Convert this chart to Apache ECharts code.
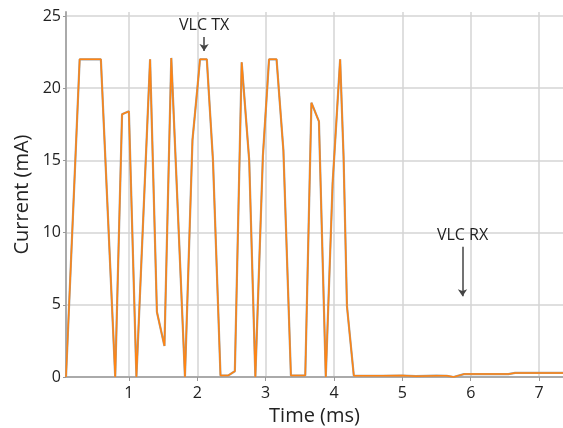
<!DOCTYPE html>
<html><head><meta charset="utf-8">
<script src="https://cdn.jsdelivr.net/npm/echarts@6/dist/echarts.min.js"></script>
<style>html,body{margin:0;padding:0;background:#fff}#c{width:563px;height:428px}</style>
</head><body><div id="c"></div>
<script>
const timeMs = [0.08,0.28,0.59,0.80,0.90,1.00,1.11,1.31,1.41,1.52,1.62,1.82,1.93,2.00,2.04,2.14,2.23,2.34,2.45,2.55,2.65,2.76,2.85,2.96,3.05,3.16,3.26,3.37,3.58,3.67,3.78,3.88,3.98,4.09,4.14,4.19,4.29,4.70,5.00,5.20,5.50,5.65,5.75,5.90,6.55,6.65,7.35];
const currentMA = [0,22.0,22.0,0,18.2,18.4,0,22.0,4.5,2.15,22.1,0,16.4,19.9,22.0,22.0,15.0,0.1,0.1,0.4,21.8,15.0,0,15.3,22.0,22.0,15.7,0.1,0.1,19.0,17.7,0,13.4,22.0,15.3,4.9,0.09,0.08,0.1,0.06,0.09,0.08,0.0,0.2,0.2,0.28,0.28];
const xTicks = [1,2,3,4,5,6,7];
const annotations = [
  {text:'VLC TX', x:2.10, textY:24.36, arrowFrom:23.55, arrowTo:22.58},
  {text:'VLC RX', x:5.88, textY:9.83, arrowFrom:9.02, arrowTo:5.6}
];
const pts = timeMs.map((t,i)=>[t,currentMA[i]]);
const chart = echarts.init(document.getElementById('c'));
const font = '"Open Sans", sans-serif';
chart.setOption({
  animation:false,
  grid:{left:66,right:0,top:12,bottom:51,containLabel:false,outerBoundsMode:'none'},
  xAxis:{type:'value',min:0.08,max:7.35,
    name:'Time (ms)',nameLocation:'middle',nameGap:24,
    nameTextStyle:{fontFamily:font,fontSize:20,color:'#222'},
    axisLine:{show:true,lineStyle:{color:'#aaa',width:2}},
    axisTick:{show:true,length:4,lineStyle:{color:'#999'},customValues:xTicks},
    axisLabel:{fontFamily:font,fontSize:16,color:'#222',margin:8,customValues:xTicks},
    splitLine:{show:true,lineStyle:{color:'#d4d4d4',width:1.5}}
  },
  yAxis:{type:'value',min:0,max:25.28,interval:5,
    name:'Current (mA)',nameLocation:'middle',nameGap:28,
    nameTextStyle:{fontFamily:font,fontSize:20,color:'#222'},
    axisLine:{show:true,lineStyle:{color:'#aaa',width:2}},
    axisTick:{show:true,length:3,lineStyle:{color:'#999'}},
    axisLabel:{fontFamily:font,fontSize:16,color:'#222',margin:5,showMaxLabel:false},
    splitLine:{show:true,showMaxLine:false,lineStyle:{color:'#d4d4d4',width:1.5}}
  },
  series:[
    {type:'line',data:pts,symbol:'none',lineStyle:{color:'#a0a0a0',width:2.2},z:2,silent:true},
    {type:'line',data:pts,symbol:'none',lineStyle:{color:'#ff8412',width:1.5},z:3,
      markLine:{silent:true,symbol:['none','arrow'],symbolSize:[7,7],
        lineStyle:{color:'#444',width:1.5,type:'solid'},label:{show:false},
        data:annotations.map(a=>[{coord:[a.x,a.arrowFrom]},{coord:[a.x,a.arrowTo]}])},
      markPoint:{silent:true,symbol:'circle',symbolSize:0,
        data:annotations.map(a=>({coord:[a.x,a.textY],label:{show:true,position:'inside',formatter:a.text,fontFamily:font,fontSize:16,color:'#222'}}))}
    }
  ]
});
</script></body></html>
